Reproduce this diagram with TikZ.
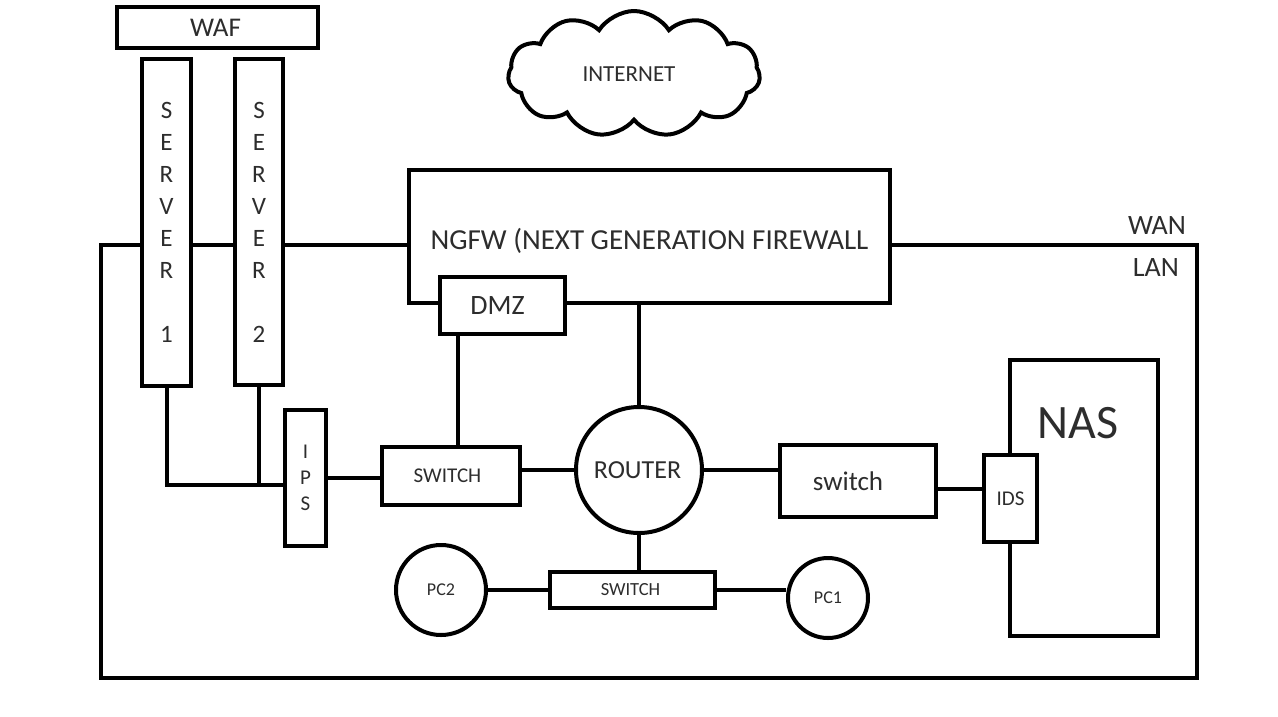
\documentclass[tikz,border=0pt]{standalone}
\usepackage{fontspec}
\setmainfont{Carlito}
\usetikzlibrary{shapes.symbols}
\definecolor{txt}{RGB}{45,45,45}
\begin{document}
\begin{tikzpicture}[x=1pt,y=-1pt,
  box/.style={draw, line width=4pt, fill=white, rectangle, inner sep=0pt, text=txt},
  rnd/.style={draw, line width=4pt, fill=white, circle, inner sep=0pt, text=txt},
  wire/.style={line width=4pt},
  lbl/.style={inner sep=0pt, text=txt}]
\useasboundingbox[fill=white] (0,0) rectangle (1278,716);
% nodes
\node[box, minimum width=201, minimum height=41, font=\fontsize{27}{30}\selectfont] (waf) at (217.5,27.5) {WAF\hspace*{4pt}};
\node[box, minimum width=49, minimum height=327, align=center, font=\fontsize{25}{32}\selectfont] (server1) at (166.5,222.5) {S\\E\\R\\V\\E\\R\\ \\1};
\node[box, minimum width=48, minimum height=326, align=center, font=\fontsize{25}{32}\selectfont] (server2) at (259,222) {S\\E\\R\\V\\E\\R\\ \\2};
\node[box, minimum width=481, minimum height=133, font=\fontsize{29}{32}\selectfont] (ngfw) at (649.5,236.5) {\raisebox{-13pt}[0pt][0pt]{NGFW (NEXT GENERATION FIREWALL}};
\node[box, minimum width=125, minimum height=57, font=\fontsize{28}{32}\selectfont] (dmz) at (502.5,305.5) {DMZ\hspace*{10pt}};
\node[cloud, draw, line width=4pt, fill=white, cloud puffs=11, cloud puff arc=115, aspect=2, minimum width=252, minimum height=126, inner sep=0pt, text=txt, font=\fontsize{23}{26}\selectfont] (internet) at (634,74) {INTERNET\hspace*{10pt}};
\node[rnd, minimum size=126, font=\fontsize{26}{30}\selectfont] (router) at (639,470) {ROUTER\hspace*{3pt}};
\node[box, minimum width=138, minimum height=58, font=\fontsize{21}{24}\selectfont] (switch1) at (451,476) {SWITCH\hspace*{7pt}};
\node[box, minimum width=41, minimum height=136, align=center, font=\fontsize{21}{26}\selectfont] (ips) at (305.5,478) {I\\P\\S};
\node[box, minimum width=156, minimum height=72, font=\fontsize{27}{30}\selectfont] (switch2) at (858,481) {switch\hspace*{20pt}};
\node[box, minimum width=148, minimum height=276] (nas) at (1084,498) {};
\node[lbl, font=\fontsize{48}{52}\selectfont] (nastext) at (1078,423) {NAS};
\node[box, minimum width=53, minimum height=87, font=\fontsize{21}{24}\selectfont] (ids) at (1010.5,498.5) {IDS};
\node[box, minimum width=165, minimum height=36, font=\fontsize{18.5}{22}\selectfont] (switch3) at (632.5,590) {SWITCH\hspace*{4pt}};
\node[rnd, minimum size=90, font=\fontsize{18}{21}\selectfont] (pc2) at (441,590) {PC2};
\node[rnd, minimum size=80, font=\fontsize{18}{21}\selectfont] (pc1) at (828,598) {PC1};
\node[lbl, font=\fontsize{28}{31}\selectfont] (wan) at (1157,226) {WAN};
\node[lbl, font=\fontsize{28}{31}\selectfont] (lan) at (1156,268) {LAN};
% LAN frame
\coordinate (lantl) at (101,245);
\coordinate (lanbl) at (101,678);
\coordinate (lanbr) at (1197,678);
\coordinate (lantr) at (1197,245);
\draw[wire] (server1.west |- lantl) -- (lantl) -- (lanbl) -- (lanbr) -- (lantr) -- (ngfw.east |- lantr);
\draw[wire] (server1.east |- lantl) -- (server2.west |- lantl);
\draw[wire] (server2.east |- lantl) -- (ngfw.west |- lantl);
% connectors
\draw[wire] ([xshift=7]switch1.north) -- ([xshift=7]switch1.north |- dmz.south);
\draw[wire] (router.north) -- (router.north |- ngfw.south);
\draw[wire] (router.west) -- (router.west -| switch1.east);
\draw[wire] (router.east) -- (router.east -| switch2.west);
\draw[wire] ([yshift=-8]switch2.east) -- ([yshift=-8]switch2.east -| ids.west);
\draw[wire] (router.south) -- (router.south |- switch3.north);
\draw[wire] (pc2.east) -- (pc2.east -| switch3.west);
\draw[wire] (switch3.east) -- (switch3.east -| pc1.west);
\draw[wire] (ips.east) -- (ips.east -| switch1.west);
\coordinate (ipsin) at ([yshift=-7]ips.west);
\draw[wire] (server1.south) |- (ipsin);
\draw[wire] (server2.south) -- (server2.south |- ipsin);
\end{tikzpicture}
\end{document}
